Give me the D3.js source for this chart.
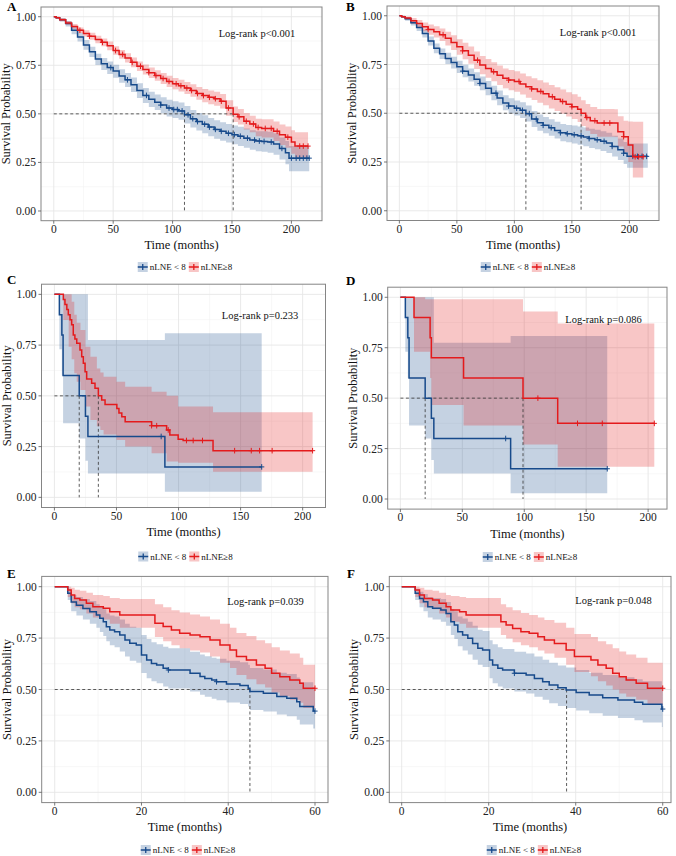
<!DOCTYPE html>
<html>
<head>
<meta charset="utf-8">
<script src="https://cdn.jsdelivr.net/npm/d3@7"></script>
<style>
  body { margin: 0; background: #fff; }
  svg text { font-family: "Liberation Serif", "Times New Roman", serif; }
</style>
</head>
<body>
<div id="chart"></div>
<script>
// ---- data ----
const groups = ["nLNE < 8", "nLNE\u22658"];
const notes = ["Log-rank p<0.001", "Log-rank p<0.001", "Log-rank p=0.233",
               "Log-rank p=0.086", "Log-rank p=0.039", "Log-rank p=0.048"];
const yTicks = [0, 0.25, 0.5, 0.75, 1];
const yTickLabels = ["0.00", "0.25", "0.50", "0.75", "1.00"];
const longTicks = [0, 50, 100, 150, 200];
const shortTicks = [0, 20, 40, 60];

// A
const aBlueT = [0,2,5,10,15,20,25,30,35,40,45,50,55,60,65,70,75,80,85,90,95,100,105,110,115,120,125,130,135,140,145,150,155,160,165,170,175,180,185,190,195,198,215];
const aBlueS = [1,.995,.985,.965,.93,.895,.855,.82,.782,.758,.738,.72,.695,.675,.65,.62,.595,.575,.56,.545,.53,.522,.515,.495,.475,.46,.447,.432,.42,.41,.4,.393,.385,.375,.365,.36,.358,.355,.345,.322,.3,.272,.272];
const aBlueLo = [1,.99,.975,.95,.91,.872,.83,.792,.752,.726,.705,.686,.66,.638,.612,.582,.556,.535,.52,.503,.487,.478,.47,.45,.43,.414,.4,.385,.372,.362,.352,.344,.335,.325,.315,.308,.305,.3,.29,.265,.24,.205,.205];
const aBlueHi = [1,1,.993,.978,.948,.917,.88,.846,.81,.788,.77,.753,.73,.71,.687,.657,.633,.614,.6,.586,.572,.565,.559,.54,.52,.505,.493,.478,.467,.457,.448,.44,.433,.424,.415,.41,.41,.408,.4,.378,.36,.335,.335];
const aBlueCens = [48,62,78,90,97,101,104,108,113,117,121,127,131,136,141,147,152,157,163,169,173,177,183,192,200,204,207,210,213,215];
const aRedT = [0,2,5,10,15,20,25,30,35,40,45,50,55,60,65,70,75,80,85,90,95,100,105,110,115,120,125,130,135,140,145,151,155,160,165,170,175,180,185,190,195,200,203,214];
const aRedS = [1,.995,.985,.968,.95,.93,.914,.9,.883,.868,.85,.826,.806,.788,.765,.745,.728,.712,.697,.682,.667,.655,.645,.633,.62,.605,.594,.585,.578,.565,.53,.498,.485,.462,.448,.43,.425,.425,.41,.392,.38,.355,.334,.334];
const aRedLo = [1,.99,.977,.958,.938,.916,.898,.882,.864,.848,.828,.804,.783,.764,.74,.72,.702,.685,.67,.654,.638,.626,.615,.602,.588,.572,.56,.55,.542,.528,.49,.458,.445,.42,.405,.385,.378,.378,.36,.34,.325,.295,.275,.275];
const aRedHi = [1,1,.993,.978,.962,.944,.93,.918,.902,.888,.872,.848,.829,.812,.79,.77,.754,.739,.724,.71,.696,.684,.675,.664,.652,.638,.628,.62,.614,.602,.57,.538,.525,.504,.49,.475,.472,.472,.46,.445,.435,.415,.405,.405];
const aRedCens = [22,30,41,52,58,66,73,80,86,92,97,103,107,112,116,121,126,131,136,141,147,156,162,168,172,178,183,188,197,207,210,214];
const aMedians = [110, 151];

// B
const bBlueT = [0,2,5,10,15,20,25,30,35,40,45,50,55,60,65,70,75,80,85,90,95,100,105,110,115,120,125,130,135,140,145,150,155,160,165,170,175,180,185,190,195,198,216];
const bBlueS = [1,.995,.985,.964,.94,.909,.87,.833,.805,.781,.76,.738,.716,.696,.675,.653,.628,.603,.578,.552,.537,.526,.515,.498,.47,.451,.438,.426,.412,.4,.395,.39,.384,.378,.37,.364,.356,.347,.33,.313,.295,.279,.279];
const bBlueLo = [1,.99,.975,.95,.922,.888,.847,.808,.778,.753,.73,.707,.684,.663,.641,.618,.592,.567,.541,.515,.499,.488,.476,.458,.43,.41,.397,.384,.37,.357,.351,.345,.338,.331,.322,.315,.306,.296,.278,.26,.24,.22,.22];
const bBlueHi = [1,1,.993,.977,.957,.93,.893,.858,.832,.81,.79,.769,.749,.73,.71,.689,.665,.641,.617,.592,.577,.566,.556,.54,.512,.494,.481,.469,.456,.445,.44,.437,.432,.427,.42,.415,.408,.4,.385,.37,.353,.345,.345];
const bBlueCens = [55,70,84,95,102,107,113,119,125,132,140,146,152,158,165,172,178,185,195,203,207,211,215];
const bRedT = [0,2,5,10,15,20,25,30,35,40,45,50,55,60,65,70,75,80,85,90,95,100,105,110,115,120,125,130,135,140,145,150,155,158,162,166,172,187,190,195,199,203,212];
const bRedS = [1,.995,.988,.974,.96,.944,.93,.918,.903,.884,.863,.841,.82,.798,.772,.747,.73,.713,.695,.679,.67,.663,.65,.636,.625,.612,.6,.585,.572,.56,.546,.533,.52,.5,.478,.462,.45,.45,.405,.38,.337,.277,.277];
const bRedLo = [1,.99,.978,.958,.94,.92,.903,.888,.87,.848,.825,.8,.777,.754,.727,.7,.682,.664,.645,.628,.618,.61,.596,.58,.568,.554,.541,.525,.511,.498,.483,.47,.455,.434,.41,.393,.38,.378,.33,.3,.25,.17,.17];
const bRedHi = [1,1,.996,.988,.978,.966,.955,.946,.934,.918,.9,.88,.862,.842,.817,.794,.778,.762,.745,.73,.722,.716,.704,.69,.68,.669,.658,.645,.633,.622,.608,.597,.585,.567,.547,.532,.522,.52,.485,.462,.458,.456,.456];
const bRedCens = [25,38,55,68,82,95,104,115,123,133,142,150,163,170,178,183,195,205,208,212];
const bMedians = [110, 158];

// C
const cBlueT = [0,4,6,7,20,25,27,89,167];
const cBlueS = [1,.9,.8,.6,.5,.4,.3,.15,.15];
const cBlueLo = [1,.73,.6,.365,.29,.18,.118,.028,.028];
const cBlueHi = [1,1,1,1,1,1,.775,.808,.808];
const cBlueCens = [86,167];
const cRedT = [0,7.2,8.5,10,11.2,12.6,13.9,15.2,16.5,18,20.6,22,23.3,24.7,26,30,32.7,35.4,38.1,40.8,50.3,52,54.3,57,78.3,90.4,93,99.7,103.7,127.8,208];
const cRedS = [1,.975,.95,.925,.9,.875,.85,.8,.78,.759,.726,.693,.66,.619,.583,.562,.537,.5,.48,.458,.438,.415,.397,.373,.353,.332,.307,.286,.28,.23,.23];
const cRedBandT = [0,7.2,11.5,13.9,16,18,21,25,29,34.2,37,39.6,50,57,78.3,90.4,99.7,127.8,208];
const cRedLo = [1,.874,.742,.68,.611,.57,.529,.447,.381,.35,.332,.31,.282,.25,.217,.176,.171,.126,.126];
const cRedHi = [1,1,1,.963,.9,.86,.824,.742,.693,.635,.615,.594,.57,.545,.52,.5,.447,.419,.419];
const cRedCens = [78.3,82.4,91.7,106.4,111.8,119.3,145.2,158.6,165.3,175.4,208];
const cMedians = [20, 35.4];

// D
const dBlueT = [0,4,6,7,20,25,27,89,167];
const dBlueS = [1,.9,.8,.6,.5,.4,.3,.15,.15];
const dBlueLo = [1,.73,.6,.364,.3,.193,.127,.028,.028];
const dBlueHi = [1,1,1,1,1,1,.775,.808,.808];
const dBlueCens = [85,167];
const dRedT = [0,11,24,25,51,99,127,205];
const dRedS = [1,.9,.8,.7,.6,.5,.375,.375];
const dRedBandT = [0,11,20,24,25,51,99,127,205];
const dRedLo = [1,.73,.73,.6,.466,.364,.27,.16,.16];
const dRedHi = [1,1,.99,.99,.99,.99,.93,.87,.87];
const dRedCens = [111,143,163,205];
const dMedians = [20, 99];

// E
const eBlueT = [0,3,3.8,5,6.5,8.1,9.6,10.4,11.2,11.9,12.7,13.8,15,16.2,17.3,18.8,20,21.2,22.3,23.5,25,26.2,31.2,33.5,34.6,36.2,37.3,39.6,42.7,44.6,45,48.1,51.2,53.5,55.8,56.5,59.6,60];
const eBlueS = [1,.968,.926,.91,.894,.878,.862,.846,.829,.805,.789,.781,.765,.741,.725,.717,.668,.644,.627,.619,.603,.595,.579,.563,.554,.546,.538,.527,.519,.506,.49,.482,.466,.458,.441,.417,.395,.395];
const eBlueLo = [1,.935,.88,.86,.84,.82,.8,.78,.76,.735,.715,.705,.685,.66,.64,.63,.58,.555,.54,.53,.515,.505,.49,.475,.465,.455,.448,.437,.43,.417,.4,.393,.378,.37,.353,.33,.31,.31];
const eBlueHi = [1,.99,.96,.95,.94,.93,.915,.905,.89,.87,.86,.855,.84,.82,.805,.8,.765,.745,.73,.72,.708,.7,.684,.67,.662,.655,.65,.64,.632,.62,.605,.597,.582,.575,.558,.535,.5,.5];
const eBlueCens = [26.2,37.3,60];
const eRedT = [0,3,3.8,4.6,5.8,7.3,8.8,11.2,12.7,15,23.1,25,26.9,28.8,31.2,33.5,35.8,38.1,40.4,41.9,44.2,46.5,48.5,50,51.9,54.2,56.5,57.3,60];
const eRedS = [1,.984,.96,.943,.935,.919,.903,.895,.878,.862,.822,.806,.789,.773,.765,.757,.741,.716,.692,.66,.643,.619,.603,.579,.562,.546,.53,.506,.506];
const eRedLo = [1,.95,.92,.9,.89,.87,.85,.84,.82,.8,.755,.735,.715,.7,.69,.68,.66,.63,.605,.57,.55,.525,.51,.485,.467,.45,.435,.41,.41];
const eRedHi = [1,1,.995,.985,.98,.97,.96,.955,.945,.94,.915,.9,.885,.875,.865,.855,.84,.82,.8,.775,.76,.74,.725,.705,.69,.675,.655,.62,.62];
const eRedCens = [60];
const eMedians = [45];

// F
const fBlueT = [0,3.1,4.1,5,6,7.1,9,10.2,11.3,12.1,12.9,14,15.2,16.3,17.5,18.6,20.2,20.9,22.1,23.2,25.9,28.6,30.5,32.4,33.9,35.9,37.8,40.1,43.1,46.2,49.7,53.5,55.4,59.8,60];
const fBlueS = [1,.968,.943,.927,.903,.895,.887,.87,.83,.814,.781,.765,.749,.724,.7,.692,.643,.619,.603,.595,.579,.57,.554,.538,.522,.509,.498,.486,.473,.46,.449,.438,.428,.405,.405];
const fBlueLo = [1,.935,.9,.88,.85,.84,.83,.81,.765,.745,.71,.69,.67,.645,.62,.61,.555,.53,.515,.505,.49,.48,.465,.45,.433,.42,.41,.398,.385,.372,.362,.35,.34,.318,.318];
const fBlueHi = [1,.99,.975,.965,.95,.945,.94,.925,.89,.88,.855,.845,.83,.81,.79,.785,.74,.72,.705,.697,.683,.675,.66,.645,.63,.617,.607,.595,.582,.57,.56,.55,.54,.52,.52];
const fBlueCens = [25.9,60];
const fRedT = [0,3.1,4.1,5.2,7.1,8.6,10.2,11.3,13.3,14.8,22.8,24,25.5,27.4,29.3,31.3,32.8,35.1,37.8,39.7,43.5,45.1,47,48.5,50,51.6,53.9,56.5,60];
const fRedS = [1,.984,.96,.943,.935,.919,.903,.887,.878,.862,.83,.814,.797,.781,.773,.757,.741,.724,.692,.66,.643,.619,.603,.579,.562,.546,.53,.506,.506];
const fRedLo = [1,.95,.92,.9,.89,.87,.85,.83,.82,.8,.765,.748,.73,.715,.705,.69,.675,.655,.62,.585,.565,.54,.52,.5,.48,.465,.45,.425,.425];
const fRedHi = [1,1,.995,.985,.98,.97,.96,.955,.95,.945,.915,.9,.885,.872,.862,.85,.838,.825,.8,.77,.755,.735,.72,.7,.685,.67,.655,.63,.63];
const fRedCens = [60];
const fMedians = [37.9];

// ---- styling / layout ----
const colors = ["#174a8b", "#e41a1c"];
const bandAlpha = 0.25;
const W = 676, H = 856;

const layout = {
  A: { left: 41, right: 322, top: 7, bottom: 220.7, xDom: [-10.75, 225.75], letter: [7, 11], legend: [185, 267], note: [171, 0.916] },
  B: { left: 387, right: 659, top: 6, bottom: 220.5, xDom: [-10.75, 225.75], letter: [346, 11], legend: [528, 267], note: [172.7, 0.916] },
  C: { left: 41.5, right: 325.5, top: 284.2, bottom: 507.5, xDom: [-10.4, 218.4], letter: [7, 284], legend: [185.5, 556.5], note: [165.7, 0.898] },
  D: { left: 387.7, right: 667, top: 287.2, bottom: 509.1, xDom: [-10.25, 215.25], letter: [346, 285], legend: [530, 557], note: [164, 0.892] },
  E: { left: 41.7, right: 328, top: 576.4, bottom: 802.6, xDom: [-3, 63], letter: [7, 578], legend: [188, 850], note: [48.6, 0.93] },
  F: { left: 389.3, right: 671, top: 576.4, bottom: 802.6, xDom: [-2.85, 61.9], letter: [347, 578], legend: [534, 850], note: [48.7, 0.935] }
};

function series(t, s, bt, lo, hi, cens) {
  return { t, s, bt, lo, hi, cens };
}

const panels = [
  { id: "A", xTicks: longTicks, note: notes[0], medians: aMedians, series: [
    series(aBlueT, aBlueS, aBlueT, aBlueLo, aBlueHi, aBlueCens),
    series(aRedT, aRedS, aRedT, aRedLo, aRedHi, aRedCens)] },
  { id: "B", xTicks: longTicks, note: notes[1], medians: bMedians, series: [
    series(bBlueT, bBlueS, bBlueT, bBlueLo, bBlueHi, bBlueCens),
    series(bRedT, bRedS, bRedT, bRedLo, bRedHi, bRedCens)] },
  { id: "C", xTicks: longTicks, note: notes[2], medians: cMedians, series: [
    series(cBlueT, cBlueS, cBlueT, cBlueLo, cBlueHi, cBlueCens),
    series(cRedT, cRedS, cRedBandT, cRedLo, cRedHi, cRedCens)] },
  { id: "D", xTicks: longTicks, note: notes[3], medians: dMedians, series: [
    series(dBlueT, dBlueS, dBlueT, dBlueLo, dBlueHi, dBlueCens),
    series(dRedT, dRedS, dRedBandT, dRedLo, dRedHi, dRedCens)] },
  { id: "E", xTicks: shortTicks, note: notes[4], medians: eMedians, series: [
    series(eBlueT, eBlueS, eBlueT, eBlueLo, eBlueHi, eBlueCens),
    series(eRedT, eRedS, eRedT, eRedLo, eRedHi, eRedCens)] },
  { id: "F", xTicks: shortTicks, note: notes[5], medians: fMedians, series: [
    series(fBlueT, fBlueS, fBlueT, fBlueLo, fBlueHi, fBlueCens),
    series(fRedT, fRedS, fRedT, fRedLo, fRedHi, fRedCens)] }
];

const svg = d3.select("#chart")
  .append("svg")
  .attr("width", W)
  .attr("height", H)
  .attr("viewBox", `0 0 ${W} ${H}`);

svg.append("rect").attr("width", W).attr("height", H).attr("fill", "#fff");

function drawPanel(p) {
  const L = layout[p.id];
  const x = d3.scaleLinear().domain(L.xDom).range([L.left, L.right]);
  const y = d3.scaleLinear().domain([-0.05, 1.05]).range([L.bottom, L.top]);
  const g = svg.append("g").attr("class", "panel-" + p.id);

  // minor + major grid
  const step = p.xTicks[1] - p.xTicks[0];
  const xMinor = d3.range(p.xTicks[0] - step / 2, p.xTicks[p.xTicks.length - 1] + step, step)
    .filter(v => v >= L.xDom[0] && v <= L.xDom[1]);
  const yMinor = [0.125, 0.375, 0.625, 0.875];
  g.selectAll(".xminor").data(xMinor).enter().append("line")
    .attr("x1", d => x(d)).attr("x2", d => x(d)).attr("y1", L.top).attr("y2", L.bottom)
    .attr("stroke", "#f2f2f2").attr("stroke-width", 0.6);
  g.selectAll(".yminor").data(yMinor).enter().append("line")
    .attr("y1", d => y(d)).attr("y2", d => y(d)).attr("x1", L.left).attr("x2", L.right)
    .attr("stroke", "#f2f2f2").attr("stroke-width", 0.6);
  g.selectAll(".xmajor").data(p.xTicks).enter().append("line")
    .attr("x1", d => x(d)).attr("x2", d => x(d)).attr("y1", L.top).attr("y2", L.bottom)
    .attr("stroke", "#e6e6e6").attr("stroke-width", 0.9);
  g.selectAll(".ymajor").data(yTicks).enter().append("line")
    .attr("y1", d => y(d)).attr("y2", d => y(d)).attr("x1", L.left).attr("x2", L.right)
    .attr("stroke", "#e6e6e6").attr("stroke-width", 0.9);

  // confidence bands
  const area = d3.area()
    .x(d => x(d[0])).y0(d => y(d[1])).y1(d => y(d[2]))
    .curve(d3.curveStepAfter);
  p.series.forEach((se, i) => {
    g.append("path")
      .datum(se.bt.map((t, k) => [t, se.lo[k], se.hi[k]]))
      .attr("d", area)
      .attr("fill", colors[i])
      .attr("fill-opacity", bandAlpha);
  });

  // median guides
  const dash = "3,2.5";
  g.append("line")
    .attr("x1", x(0)).attr("x2", x(d3.max(p.medians)))
    .attr("y1", y(0.5)).attr("y2", y(0.5))
    .attr("stroke", "#333").attr("stroke-width", 0.8).attr("stroke-dasharray", dash);
  g.selectAll(".med").data(p.medians).enter().append("line")
    .attr("x1", d => x(d)).attr("x2", d => x(d))
    .attr("y1", y(0.5)).attr("y2", y(0))
    .attr("stroke", "#333").attr("stroke-width", 0.8).attr("stroke-dasharray", dash);

  // survival curves
  const line = d3.line().x(d => x(d[0])).y(d => y(d[1])).curve(d3.curveStepAfter);
  p.series.forEach((se, i) => {
    g.append("path")
      .datum(se.t.map((t, k) => [t, se.s[k]]))
      .attr("d", line)
      .attr("fill", "none")
      .attr("stroke", colors[i])
      .attr("stroke-width", 1.5);
    const marks = se.cens.map(c => {
      const k = Math.max(0, d3.bisectRight(se.t, c) - 1);
      return [c, se.s[k]];
    });
    g.selectAll(null).data(marks).enter().append("path")
      .attr("d", d => `M${x(d[0]) - 2.6},${y(d[1])}H${x(d[0]) + 2.6}M${x(d[0])},${y(d[1]) - 2.8}V${y(d[1]) + 2.8}`)
      .attr("stroke", colors[i])
      .attr("stroke-width", 1);
  });

  // frame
  g.append("rect")
    .attr("x", L.left).attr("y", L.top)
    .attr("width", L.right - L.left).attr("height", L.bottom - L.top)
    .attr("fill", "none").attr("stroke", "#858585").attr("stroke-width", 1);

  // axes ticks & labels
  g.selectAll(".xt").data(p.xTicks).enter().append("line")
    .attr("x1", d => x(d)).attr("x2", d => x(d)).attr("y1", L.bottom).attr("y2", L.bottom + 3)
    .attr("stroke", "#555").attr("stroke-width", 0.8);
  g.selectAll(".xl").data(p.xTicks).enter().append("text")
    .attr("x", d => x(d)).attr("y", L.bottom + 12)
    .attr("text-anchor", "middle").attr("font-size", 11.5).attr("fill", "#222")
    .text(d => d);
  g.selectAll(".yt").data(yTicks).enter().append("line")
    .attr("x1", L.left - 3).attr("x2", L.left).attr("y1", d => y(d)).attr("y2", d => y(d))
    .attr("stroke", "#555").attr("stroke-width", 0.8);
  g.selectAll(".yl").data(yTicks).enter().append("text")
    .attr("x", L.left - 5).attr("y", d => y(d)).attr("dy", "0.35em")
    .attr("text-anchor", "end").attr("font-size", 11.5).attr("fill", "#222")
    .text((d, i) => yTickLabels[i]);

  g.append("text")
    .attr("x", (L.left + L.right) / 2).attr("y", L.bottom + 28.5)
    .attr("text-anchor", "middle").attr("font-size", 12.5).attr("fill", "#111")
    .text("Time (months)");
  g.append("text")
    .attr("transform", `translate(${L.left - 31},${(L.top + L.bottom) / 2}) rotate(-90)`)
    .attr("text-anchor", "middle").attr("font-size", 12.5).attr("fill", "#111")
    .text("Survival Probability");

  // log-rank note
  g.append("text")
    .attr("x", x(L.note[0])).attr("y", y(L.note[1])).attr("dy", "0.35em")
    .attr("text-anchor", "middle").attr("font-size", 10.5).attr("fill", "#111")
    .text(p.note);

  // panel letter
  svg.append("text")
    .attr("x", L.letter[0]).attr("y", L.letter[1])
    .attr("font-size", 13).attr("font-weight", "bold").attr("fill", "#000")
    .text(p.id);

  drawLegend(L.legend[0], L.legend[1]);
}

function drawLegend(cx, cy) {
  const lg = svg.append("g");
  let pos = 0;
  groups.forEach((name, i) => {
    lg.append("rect")
      .attr("x", pos).attr("y", -5).attr("width", 10).attr("height", 10)
      .attr("fill", colors[i]).attr("fill-opacity", bandAlpha);
    lg.append("path")
      .attr("d", `M${pos},0H${pos + 10}M${pos + 5},-3V3`)
      .attr("stroke", colors[i]).attr("stroke-width", 1.3);
    const t = lg.append("text")
      .attr("x", pos + 12).attr("y", 0).attr("dy", "0.35em")
      .attr("font-size", 9).attr("fill", "#111")
      .text(name);
    pos += 12 + t.node().getComputedTextLength() + 3;
  });
  lg.attr("transform", `translate(${cx - (pos - 3) / 2},${cy})`);
}

panels.forEach(drawPanel);
</script>
</body>
</html>
